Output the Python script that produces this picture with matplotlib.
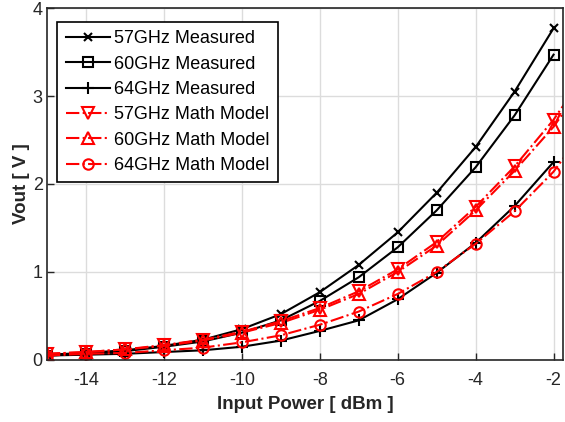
import matplotlib
matplotlib.use("Agg")
import matplotlib.pyplot as plt
import numpy as np

plt.rcParams['font.family'] = ['Liberation Sans', 'DejaVu Sans']
plt.rcParams['axes.unicode_minus'] = False

pin = [-15, -14, -13, -12, -11, -10, -9, -8, -7, -6, -5, -4, -3, -2]
pin_model = [-15, -14, -13, -12, -11, -10, -9, -8, -7, -6, -5, -4, -3, -2, -1]

meas_57 = [0.06, 0.08, 0.11, 0.16, 0.23, 0.35, 0.52, 0.77, 1.08, 1.45, 1.90, 2.42, 3.05, 3.77]
meas_60 = [0.05, 0.07, 0.10, 0.15, 0.21, 0.31, 0.45, 0.67, 0.94, 1.28, 1.70, 2.19, 2.78, 3.47]
meas_64 = [0.05, 0.06, 0.07, 0.09, 0.11, 0.15, 0.22, 0.33, 0.45, 0.69, 0.99, 1.33, 1.75, 2.25]

model_57 = [0.07, 0.09, 0.12, 0.17, 0.23, 0.32, 0.44, 0.59, 0.78, 1.03, 1.34, 1.74, 2.20, 2.73, 3.38]
model_60 = [0.07, 0.09, 0.12, 0.16, 0.22, 0.31, 0.42, 0.57, 0.75, 1.00, 1.30, 1.70, 2.15, 2.65, 3.28]
model_64 = [0.05, 0.07, 0.08, 0.11, 0.14, 0.20, 0.28, 0.40, 0.55, 0.75, 1.00, 1.32, 1.69, 2.14, 2.75]

labels = ["57GHz Measured", "60GHz Measured", "64GHz Measured",
          "57GHz Math Model", "60GHz Math Model", "64GHz Math Model"]

fig = plt.figure(figsize=(5.65, 4.22), dpi=100)
ax = fig.add_axes([0.083, 0.147, 0.914, 0.834])

lw = 1.5
ax.plot(pin, meas_57, color='black', lw=lw, marker='x', ms=6, mew=1.5, label=labels[0])
ax.plot(pin, meas_60, color='black', lw=lw, marker='s', ms=6.5, mew=1.5, mfc='none', label=labels[1])
ax.plot(pin, meas_64, color='black', lw=lw, marker='+', ms=8, mew=1.5, label=labels[2])
mk = list(range(len(pin)))
ax.plot(pin_model, model_57, color='red', lw=lw, ls='-.', marker='v', ms=8.5, mew=1.5, mfc='none', markevery=mk, label=labels[3])
ax.plot(pin_model, model_60, color='red', lw=lw, ls='-.', marker='^', ms=8.5, mew=1.5, mfc='none', markevery=mk, label=labels[4])
ax.plot(pin_model, model_64, color='red', lw=lw, ls='-.', marker='o', ms=7.5, mew=1.5, mfc='none', markevery=mk, label=labels[5])

ax.set_xlim(-15, -1.75)
ax.set_ylim(0, 4)
ax.set_xticks([-14, -12, -10, -8, -6, -4, -2])
ax.set_yticks([0, 1, 2, 3, 4])
ax.grid(True, color='#dcdcdc', lw=1)
ax.set_axisbelow(True)
for s in ax.spines.values():
    s.set_color('#262626')
    s.set_linewidth(1.2)
ax.tick_params(direction='in', length=5, width=1, labelsize=13, colors='#262626')
ax.tick_params(axis='x', pad=8.5)
ax.tick_params(axis='y', pad=3)
ax.set_xlabel("Input Power [ dBm ]", fontsize=13.5, fontweight='bold', labelpad=5, color='#262626')
ax.set_ylabel("Vout [ V ]", fontsize=13.5, fontweight='bold', labelpad=2, color='#262626')

leg = ax.legend(loc='upper left', bbox_to_anchor=(0.0, 0.99), fontsize=13.0,
                fancybox=False, framealpha=1, edgecolor='black', handlelength=2.45,
                borderpad=0.47, labelspacing=0.46, handletextpad=0.2, borderaxespad=0.57)
leg.get_frame().set_linewidth(1.2)

fig.savefig("out.png", dpi=100)
